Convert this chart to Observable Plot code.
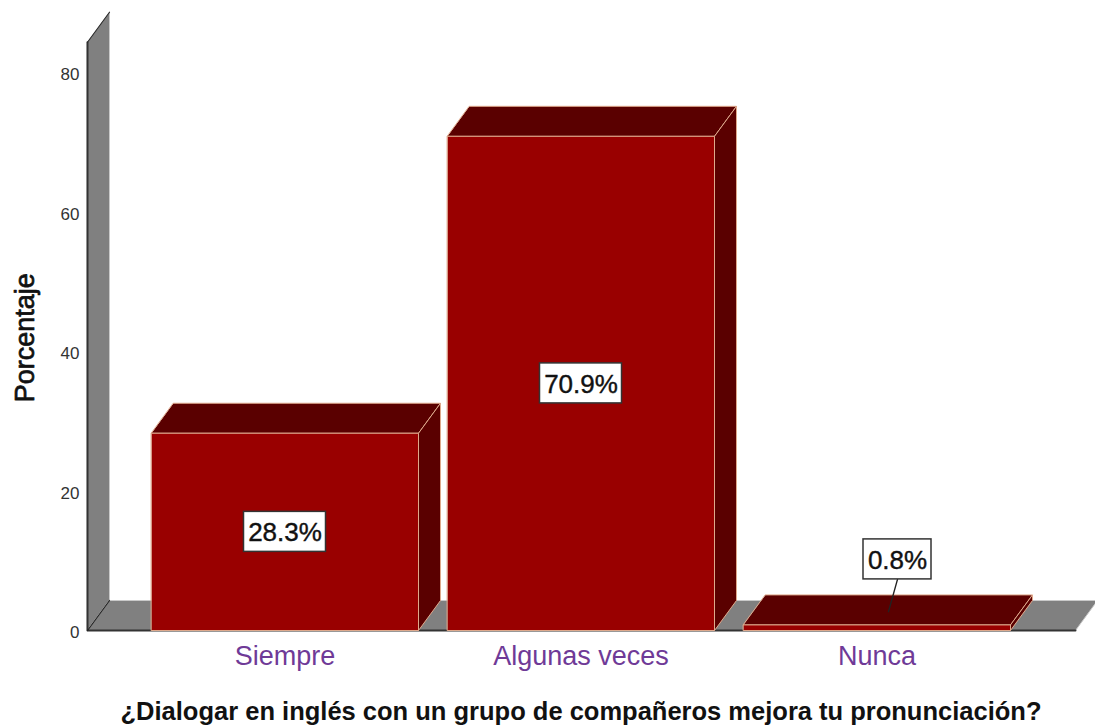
<!DOCTYPE html>
<html lang="es">
<head>
<meta charset="utf-8">
<script src="https://cdn.jsdelivr.net/npm/d3@7"></script>
<script src="https://cdn.jsdelivr.net/npm/@observablehq/plot@0.6"></script>
<style>
  html, body { margin: 0; padding: 0; background: #fff; overflow: hidden; }
  svg { display: block; }
</style>
</head>
<body>
<div id="chart"></div>
<script>
const categories = ["Siempre", "Algunas veces", "Nunca"];
const percentages = [28.3, 70.9, 0.8];
const percentLabels = ["28.3%", "70.9%", "0.8%"];
const yTicks = [0, 20, 40, 60, 80];
const xTitle = "¿Dialogar en inglés con un grupo de compañeros mejora tu pronunciación?";
const yTitle = "Porcentaje";

// Scale calibration: pixels per x unit (one category) and per percentage point
const pxX = 296, pxY = 6.97;
const left = 87, width = 1095, height = 726, floorY = 630;
const x0 = 284.5; // centre of the first category, px
const xDomain = [(left - x0) / pxX, (width - x0) / pxX];
const yDomain = [0, floorY / pxY];

const depthX = 22 / pxX, depthY = 30 / pxY;     // oblique 3D depth
const halfBar = 133.5 / pxX;
const wallFront = 84.4;                          // height of the wall's front edge
const floorL = xDomain[0], floorR = (1075 - x0) / pxX;

const poly = (id, pts) => pts.map(([x, y]) => ({id, x, y}));
const bars = percentages.map((v, i) => ({i, v, l: i - halfBar, r: i + halfBar}));

const wall = poly("wall", [[floorL, 0], [floorL + depthX, depthY], [floorL + depthX, wallFront + depthY], [floorL, wallFront]]);
const floor = poly("floor", [[floorL, 0], [floorR, 0], [floorR + depthX, depthY], [floorL + depthX, depthY]]);
const fronts = bars.flatMap(b => poly(b.i, [[b.l, 0], [b.r, 0], [b.r, b.v], [b.l, b.v]]));
const tops = bars.flatMap(b => poly(b.i, [[b.l, b.v], [b.r, b.v], [b.r + depthX, b.v + depthY], [b.l + depthX, b.v + depthY]]));
const sides = bars.flatMap(b => poly(b.i, [[b.r, 0], [b.r + depthX, depthY], [b.r + depthX, b.v + depthY], [b.r, b.v]]));

// Value labels: centred in the bar, or above and to the side with a leader when the bar is too short
const labelRows = percentages.map((v, i) => ({
  i, text: percentLabels[i],
  x: v < 5 ? i + 20.5 / pxX : i,
  w: (v < 5 ? 34 : 41) / pxX,
  h: 20 / pxY,
  y: v < 5 ? v + 9.4 : v / 2
}));
const leaders = labelRows.filter(d => percentages[d.i] < 5).flatMap(d => poly(d.i, [
  [d.x, d.y - d.h],
  [d.x - 9 / pxX, percentages[d.i] + 1.9]
]));

const edge = "#dfa98c", front = "#990000", dark = "#5a0000", gray = "#808080";
const face = (data, fill, o = {}) => Plot.line(data, {x: "x", y: "y", z: "id", fill, stroke: edge, strokeWidth: 1, curve: "linear-closed", ...o});

const plot = Plot.plot({
  width, height,
  marginLeft: left, marginRight: 0, marginTop: 0, marginBottom: height - floorY,
  style: {fontFamily: "'Liberation Sans', Arial, sans-serif", background: "#fff"},
  x: {domain: xDomain, label: null},
  y: {domain: yDomain, label: null},
  marks: [
    face(wall, gray, {stroke: "#c9c9c9"}),
    face(floor, gray, {stroke: "#c9c9c9"}),
    Plot.line(poly("e", [[floorL, wallFront], [floorL, 0], [floorR, 0]]), {x: "x", y: "y", stroke: "#333", strokeWidth: 2}),
    Plot.line(poly("d", [[floorL, 0], [floorL + depthX, depthY]]), {x: "x", y: "y", stroke: "#222", strokeWidth: 1.2}),
    Plot.line(poly("t", [[floorL, wallFront], [floorL + depthX, wallFront + depthY]]), {x: "x", y: "y", stroke: "#2a2a2a", strokeWidth: 1.2}),
    face(tops, dark),
    face(sides, dark),
    face(fronts, front),
    Plot.line(leaders, {x: "x", y: "y", z: "id", stroke: "#222", strokeWidth: 1.4}),
    Plot.rect(labelRows, {x1: d => d.x - d.w, x2: d => d.x + d.w, y1: d => d.y - d.h, y2: d => d.y + d.h, fill: "#fff", stroke: "#333", strokeWidth: 1.5}),
    Plot.text(labelRows, {x: "x", y: "y", dy: 1, text: "text", fontSize: 26, fill: "#111", stroke: "#111", strokeWidth: 0.4, textAnchor: "middle"}),
    Plot.axisY({ticks: yTicks, tickSize: 0, tickPadding: 8, dy: 2, fontSize: 17, fill: "#333", label: null}),
    Plot.axisX({ticks: categories.map((c, i) => i), tickFormat: i => categories[i], tickSize: 0, tickPadding: 15, fontSize: 27, fill: "#6f3a97", label: null}),
    Plot.text([yTitle], {y: [42], frameAnchor: "left", dx: -62, rotate: -90, textAnchor: "middle", fontSize: 27, fill: "#111", stroke: "#111", strokeWidth: 0.7, text: d => d}),
    Plot.text([xTitle], {x: [1], frameAnchor: "bottom", dy: 89, fontSize: 25.5, fontWeight: "bold", fill: "#111", text: d => d})
  ]
});
document.getElementById("chart").append(plot);
</script>
</body>
</html>
